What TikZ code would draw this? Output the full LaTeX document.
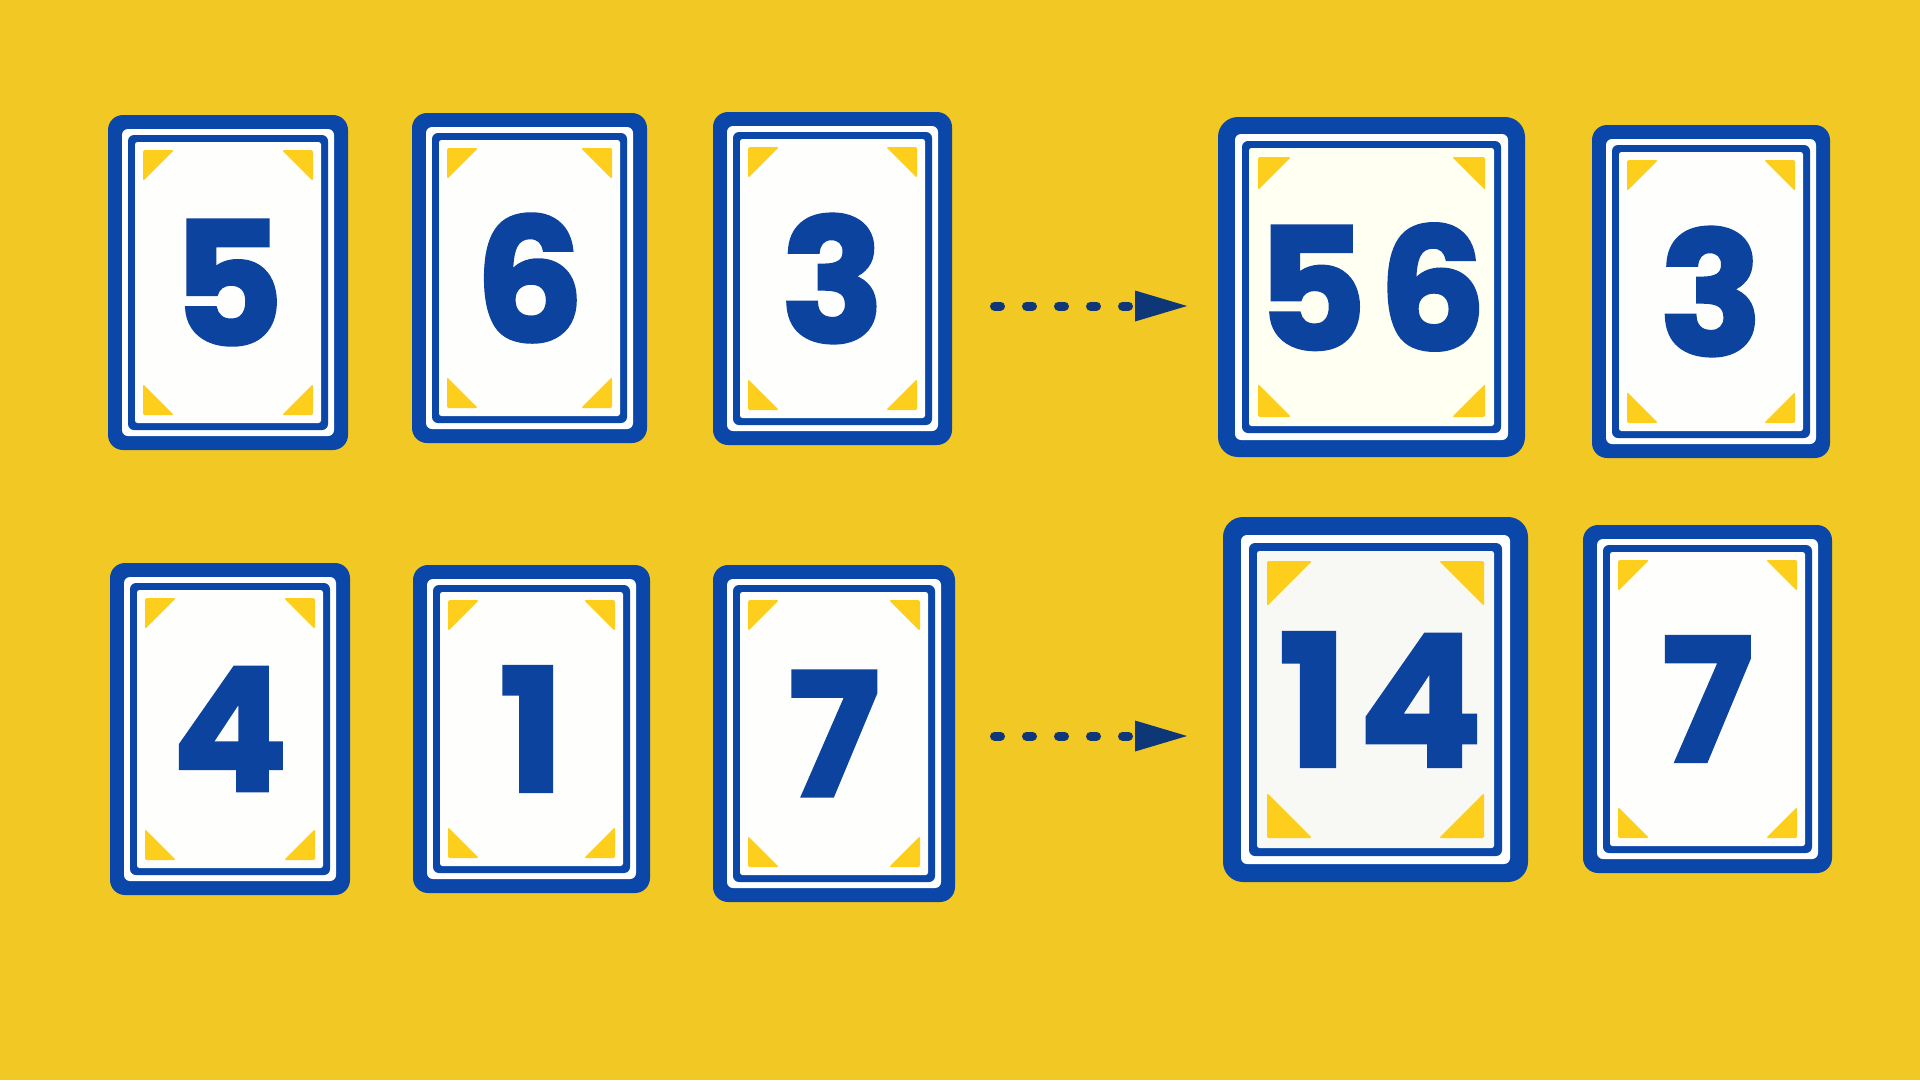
\documentclass[tikz,border=0pt]{standalone}
\usepackage{fontspec}
\setmainfont{Poppins}[BoldFeatures={FakeBold=2}]
\usetikzlibrary{arrows.meta,calc}
\definecolor{bg}{HTML}{F2C924}
\definecolor{cardblue}{HTML}{0A47A8}
\definecolor{digitblue}{HTML}{0B439F}
\definecolor{triyellow}{HTML}{FDCF1C}
\definecolor{arrowblue}{HTML}{0E3778}
\definecolor{faceA}{HTML}{FEFEFC}
\definecolor{faceB}{HTML}{FFFFF2}
\definecolor{faceC}{HTML}{F8F8F5}
\tikzset{
  cardface/.style={inner sep=0pt, text=digitblue,
    font=\bfseries\fontsize{\cFS}{\cFS}\selectfont},
  corner/.style={fill=triyellow, rounded corners=1.5pt},
  flow/.style={draw=arrowblue, line width=9pt, line cap=round,
    dash pattern=on 6pt off 26pt,
    -{Triangle[length=52pt,width=31pt,line width=0pt]}},
}
% card settings: outer, gap, line, tri inset, tri size, radius, face, font size
\newcommand\cardset[8]{%
  \def\cOut{#1}\def\cGap{#2}\def\cLine{#3}\def\cTi{#4}\def\cTs{#5}%
  \def\cR{#6}\def\cFace{#7}\def\cFS{#8}}
\newcommand\drawcard[6]{% name, x1, y1, x2, y2, text
  \pgfmathsetmacro\cA{\cOut}%
  \pgfmathsetmacro\cB{\cOut+\cGap}%
  \pgfmathsetmacro\cC{\cOut+\cGap+\cLine}%
  \pgfmathsetmacro\cRa{max(\cR-\cOut+2,6)}%
  \fill[cardblue, rounded corners=\cR pt] (#2,#3) rectangle (#4,#5);
  \fill[white, rounded corners=\cRa pt] (#2+\cA,#3+\cA) rectangle (#4-\cA,#5-\cA);
  \fill[cardblue, rounded corners=6pt] (#2+\cB,#3+\cB) rectangle (#4-\cB,#5-\cB);
  \fill[\cFace, rounded corners=2.5pt] (#2+\cC,#3+\cC) rectangle (#4-\cC,#5-\cC);
  \fill[corner] (#2+\cTi,#3+\cTi) -- ++(\cTs,0) -- ++(-\cTs,\cTs) -- cycle;
  \fill[corner] (#4-\cTi,#3+\cTi) -- ++(-\cTs,0) -- ++(\cTs,\cTs) -- cycle;
  \fill[corner] (#2+\cTi,#5-\cTi) -- ++(\cTs,0) -- ++(-\cTs,-\cTs) -- cycle;
  \fill[corner] (#4-\cTi,#5-\cTi) -- ++(-\cTs,0) -- ++(\cTs,-\cTs) -- cycle;
  \node[cardface, minimum width={#4-#2}, minimum height={#5-#3}]
    (#1) at ({(#2+#4)/2},{(#3+#5)/2}) {#6};
}
\begin{document}
\begin{tikzpicture}[x=1pt,y=-1pt]
\fill[bg] (0,0) rectangle (1920,1080);
\useasboundingbox (0,0) rectangle (1920,1080);
% normal cards
\cardset{14}{6}{7}{35}{31}{15}{faceA}{171}
\drawcard{c5}{108}{115}{348}{450}{5}
\drawcard{c6}{412}{113}{647}{443}{6}
\drawcard{c3}{713}{112}{952}{445}{3}
\drawcard{r3}{1592}{125}{1830}{458}{3}
\drawcard{c4}{110}{563}{350}{895}{4}
\drawcard{c1}{413}{565}{650}{893}{1}
\drawcard{c7}{713}{565}{955}{902}{7}
\drawcard{r7}{1583}{525}{1832}{873}{7}
% merged cards
\cardset{17}{7}{7}{40}{33}{20}{faceB}{169}
\drawcard{c56}{1218}{117}{1525}{457}{5\kern12pt6}
\cardset{18}{8}{8}{44}{45}{20}{faceC}{183}
\drawcard{c14}{1223}{517}{1528}{882}{\kern10pt1\kern11pt4}
% arrows
\coordinate (a1s) at (994.5,306);
\coordinate (a1e) at (1187,306);
\coordinate (a2s) at (994.5,736);
\coordinate (a2e) at (1187,736);
\draw[flow] (a1s) -- (a1e);
\draw[flow] (a2s) -- (a2e);
\end{tikzpicture}
\end{document}
